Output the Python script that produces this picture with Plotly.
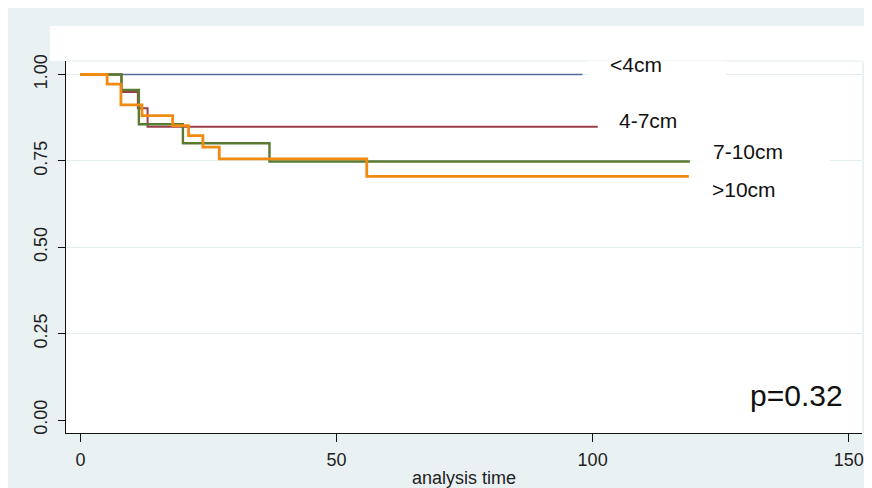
import plotly.graph_objects as go

# ---- data ----
groups = ["<4cm", "4-7cm", "7-10cm", ">10cm"]
t_lt4 = [0, 98]
s_lt4 = [1.0, 1.0]
t_4_7 = [0, 8.0, 11.2, 13.1, 101]
s_4_7 = [1.0, 0.949, 0.902, 0.849, 0.849]
t_7_10 = [0, 8.0, 11.4, 20.0, 36.9, 119]
s_7_10 = [1.0, 0.955, 0.856, 0.801, 0.748, 0.748]
t_gt10 = [0, 5.2, 7.9, 12.0, 18.0, 21.1, 23.9, 27.1, 55.9, 118.8]
s_gt10 = [1.0, 0.972, 0.912, 0.881, 0.852, 0.823, 0.790, 0.756, 0.705, 0.705]
x_ticks = [0, 50, 100, 150]
y_ticks = [0.0, 0.25, 0.5, 0.75, 1.0]
y_tick_text = ["0.00", "0.25", "0.50", "0.75", "1.00"]
p_text = "p=0.32"

BG = "#eaf1f3"
GRID = "#e3ecef"
TICKFONT = "Liberation Sans, Arial, sans-serif"
LABFONT = "Liberation Sans, Arial, sans-serif"

series = [
    (t_lt4, s_lt4, "#4f6d96", 1.6),
    (t_4_7, s_4_7, "#9a3e49", 2.0),
    (t_7_10, s_7_10, "#5a7a32", 2.4),
    (t_gt10, s_gt10, "#f08a10", 2.8),
]

fig = go.Figure()
for (t, s, c, w), name in zip(series, groups):
    fig.add_trace(go.Scatter(x=t, y=s, mode="lines", line=dict(color=c, width=w, shape="hv"),
                             name=name, showlegend=False, hoverinfo="skip"))

XR = [-2.83, 152.6]
YR = [-0.0376, 1.039]

shapes = [
    # white band above plot
    dict(type="rect", xref="paper", yref="paper", x0=-16/796, x1=1.1, y0=1.0, y1=407/372,
         fillcolor="white", line_width=0, layer="below"),
    # faint plot region top line
    dict(type="line", xref="paper", yref="paper", x0=0, x1=1, y0=1, y1=1,
         line=dict(color=GRID, width=1), layer="between"),
    # white boxes behind labels
    dict(type="rect", xref="x", yref="y", x0=99.1, x1=126.1, y0=0.993, y1=1.05,
         fillcolor="white", line_width=0, layer="between"),
    dict(type="rect", xref="x", yref="y", x0=119.3, x1=146.4, y0=0.70, y1=0.81,
         fillcolor="white", line_width=0, layer="between"),
]

annotations = [
    dict(x=103.0, y=1.029, text="<4cm"),
    dict(x=104.8, y=0.868, text="4-7cm"),
    dict(x=123.1, y=0.776, text="7-10cm"),
    dict(x=122.9, y=0.666, text=">10cm"),
]
anns = []
for a in annotations:
    anns.append(dict(x=a["x"], y=a["y"], xref="x", yref="y", text=a["text"], showarrow=False,
                     xanchor="left", yanchor="middle",
                     font=dict(family=LABFONT, size=21, color="#111")))
anns.append(dict(x=130.4, y=0.072, xref="x", yref="y", text=p_text, showarrow=False,
                 xanchor="left", yanchor="middle",
                 font=dict(family=LABFONT, size=30, color="#111")))

# the page body adds an 8px offset, so the margins are reduced by 8px on left/top
fig.update_layout(
    width=872, height=488,
    margin=dict(l=58, r=18, t=53, b=63),
    paper_bgcolor=BG, plot_bgcolor="white",
    shapes=shapes, annotations=anns,
    xaxis=dict(range=XR, tickvals=x_ticks, showgrid=False, zeroline=False, automargin=False,
               showline=True, linecolor="#111", linewidth=1,
               ticks="outside", ticklen=8, tickcolor="#111", tickwidth=1,
               ticklabelstandoff=2,
               tickfont=dict(family=TICKFONT, size=18, color="#222"),
               title=dict(text="analysis time", standoff=2,
                          font=dict(family=TICKFONT, size=18, color="#222"))),
    yaxis=dict(range=YR, tickvals=y_ticks, ticktext=y_tick_text, tickangle=-90, automargin=False,
               showgrid=True, gridcolor=GRID, gridwidth=1,
               zeroline=True, zerolinecolor="white",
               showline=True, linecolor="#111", linewidth=1,
               ticks="outside", ticklen=7, tickcolor="#111", tickwidth=1,
               ticklabelstandoff=4,
               tickfont=dict(family=TICKFONT, size=18, color="#222")),
)

fig.write_html("out.html")
